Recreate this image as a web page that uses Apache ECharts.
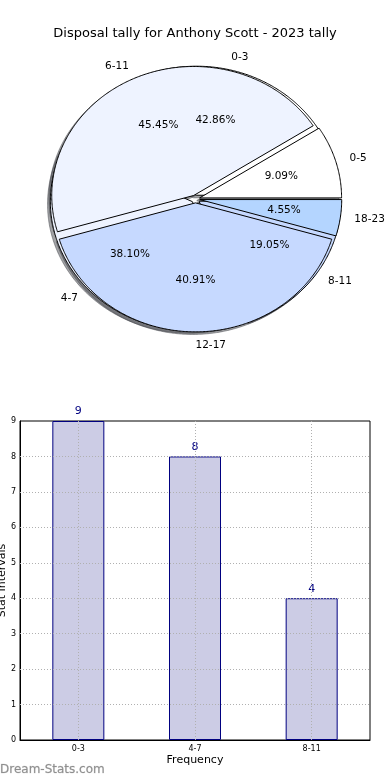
<!DOCTYPE html>
<html>
<head>
<meta charset="utf-8">
<script src="https://cdn.jsdelivr.net/npm/echarts@6/dist/echarts.min.js"></script>
<style>html,body{margin:0;padding:0;background:#fff}#c{width:390px;height:780px}</style>
</head>
<body>
<div id="c"></div>
<script>
// ---- data ----
const titleText = 'Disposal tally for Anthony Scott - 2023 tally';
const pieALabels = ['0-3', '4-7', '8-11'];
const pieAValues = [9, 8, 4];
const pieBLabels = ['0-5', '6-11', '12-17', '18-23'];
const pieBValues = [2, 10, 9, 1];
const barCategories = ['0-3', '4-7', '8-11'];
const barValues = [9, 8, 4];
const yTicks = [0, 1, 2, 3, 4, 5, 6, 7, 8, 9];

// ---- styles ----
const sliceColors = ['#ffffff', '#eef3ff', '#c6d9ff', '#b4d5ff'];
const FONT = 'DejaVu Sans';
const EXPLODE = 0.03;
const SHADOW = -0.02;

function buildSlices(labels, values, pieIdx) {
  const total = values.reduce((a, b) => a + b, 0);
  let acc = 0;
  return values.map((v, i) => {
    const s = acc / total; acc += v; const e = acc / total;
    return { value: [s, e, i, pieIdx, (v / total * 100).toFixed(2) + '%'], name: labels[i] };
  });
}
const slices = buildSlices(pieALabels, pieAValues, 0).concat(buildSlices(pieBLabels, pieBValues, 1));

function wedgePoints(api, s, e, dx, dy) {
  const m = (s + e) / 2;
  const cx = EXPLODE * Math.cos(m) + dx, cy = EXPLODE * Math.sin(m) + dy;
  const pts = [api.coord([cx, cy])];
  const n = Math.max(2, Math.ceil((e - s) / 0.01));
  for (let k = 0; k <= n; k++) {
    const t = s + (e - s) * k / n;
    pts.push(api.coord([cx + Math.cos(t), cy + Math.sin(t)]));
  }
  return pts;
}

const chart = echarts.init(document.getElementById('c'), null, { renderer: 'canvas' });

const gridLineData = yTicks.slice(1, -1).map(v => ({ yAxis: v }))
  .concat(barCategories.map(c => ({ xAxis: c })));

chart.setOption({
  animation: false,
  backgroundColor: '#fff',
  title: [
    { text: titleText, left: 'center', top: 22,
      textStyle: { fontFamily: FONT, fontSize: 13, fontWeight: 'normal', color: '#000' } },
    { text: 'Dream-Stats.com', left: 0, top: 764, padding: 0,
      textStyle: { fontFamily: FONT, fontSize: 12, fontWeight: 'normal', color: '#8e8e8e',
        textBorderColor: 'rgba(142,142,142,0.35)', textBorderWidth: 0.6 } }
  ],
  grid: [
    { left: 20, top: 421, width: 350, height: 319, show: true, borderColor: '#000', borderWidth: 1,
      backgroundColor: 'transparent', containLabel: false, outerBoundsMode: 'none' },
    { left: 25.1, top: 44.2, width: 340.8, height: 309.6, containLabel: false, outerBoundsMode: 'none' }
  ],
  xAxis: [
    { type: 'category', data: barCategories, gridIndex: 0,
      name: 'Frequency', nameLocation: 'middle', nameGap: 15, nameMoveOverlap: false,
      nameTextStyle: { fontFamily: FONT, fontSize: 11, color: '#000' },
      axisLine: { lineStyle: { color: '#000' } }, axisTick: { show: false },
      axisLabel: { fontFamily: FONT, fontSize: 8, color: '#000', margin: 5 },
      splitLine: { show: false } },
    { type: 'value', gridIndex: 1, min: -1.2, max: 1.2, show: false }
  ],
  yAxis: [
    { type: 'value', gridIndex: 0, min: 0, max: 9, interval: 1,
      name: 'Stat Intervals', nameLocation: 'middle', nameGap: 12, nameRotate: 90, nameMoveOverlap: false,
      nameTextStyle: { fontFamily: FONT, fontSize: 11, color: '#000' },
      axisLine: { show: true, lineStyle: { color: '#000' } }, axisTick: { show: false },
      axisLabel: { fontFamily: FONT, fontSize: 8, color: '#000', margin: 4 },
      splitLine: { show: false } },
    { type: 'value', gridIndex: 1, min: -1.2, max: 1.2, show: false }
  ],
  series: [
    { type: 'bar', xAxisIndex: 0, yAxisIndex: 0, data: barValues, barWidth: 52,
      itemStyle: { color: '#ccccE5', borderColor: '#000080', borderWidth: 1 },
      label: { show: true, position: 'top', distance: 4, color: '#000080', fontFamily: FONT, fontSize: 11 },
      markLine: { silent: true, symbol: 'none', label: { show: false }, animation: false,
        lineStyle: { color: '#b0b0b0', type: [1, 2], width: 1 }, data: gridLineData }
    },
    { type: 'custom', xAxisIndex: 1, yAxisIndex: 1, z: 1, data: slices, silent: true,
      renderItem: function (params, api) {
        const s = api.value(0) * 2 * Math.PI, e = api.value(1) * 2 * Math.PI;
        return { type: 'polygon', shape: { points: wedgePoints(api, s, e, SHADOW, SHADOW) },
          style: { fill: 'rgba(70,72,77,0.5)', stroke: 'rgba(70,72,77,0.5)', lineWidth: 1 } };
      } },
    { type: 'custom', xAxisIndex: 1, yAxisIndex: 1, z: 2, data: slices, silent: true,
      renderItem: function (params, api) {
        const s = api.value(0) * 2 * Math.PI, e = api.value(1) * 2 * Math.PI;
        return { type: 'polygon', shape: { points: wedgePoints(api, s, e, 0, 0) },
          style: { fill: sliceColors[api.value(2)], stroke: '#000', lineWidth: 1 } };
      } },
    { type: 'custom', xAxisIndex: 1, yAxisIndex: 1, z: 3, data: slices, silent: true,
      renderItem: function (params, api) {
        const s = api.value(0) * 2 * Math.PI, e = api.value(1) * 2 * Math.PI;
        const m = (s + e) / 2, c = Math.cos(m), sn = Math.sin(m);
        const ox = EXPLODE * c, oy = EXPLODE * sn;
        const pOut = api.coord([ox + 1.1 * c, oy + 1.1 * sn]);
        const pIn = api.coord([ox + 0.6 * c, oy + 0.6 * sn]);
        const item = slices[params.dataIndex];
        return { type: 'group', children: [
          { type: 'text', x: pOut[0], y: pOut[1], style: { text: item.name, fill: '#000',
            fontFamily: FONT, fontSize: 10.5, align: c > -1e-9 ? 'left' : 'right', verticalAlign: 'middle' } },
          { type: 'text', x: pIn[0], y: pIn[1], style: { text: item.value[4], fill: '#000',
            fontFamily: FONT, fontSize: 10.5, align: 'center', verticalAlign: 'middle' } }
        ] };
      } }
  ]
});
</script>
</body>
</html>
